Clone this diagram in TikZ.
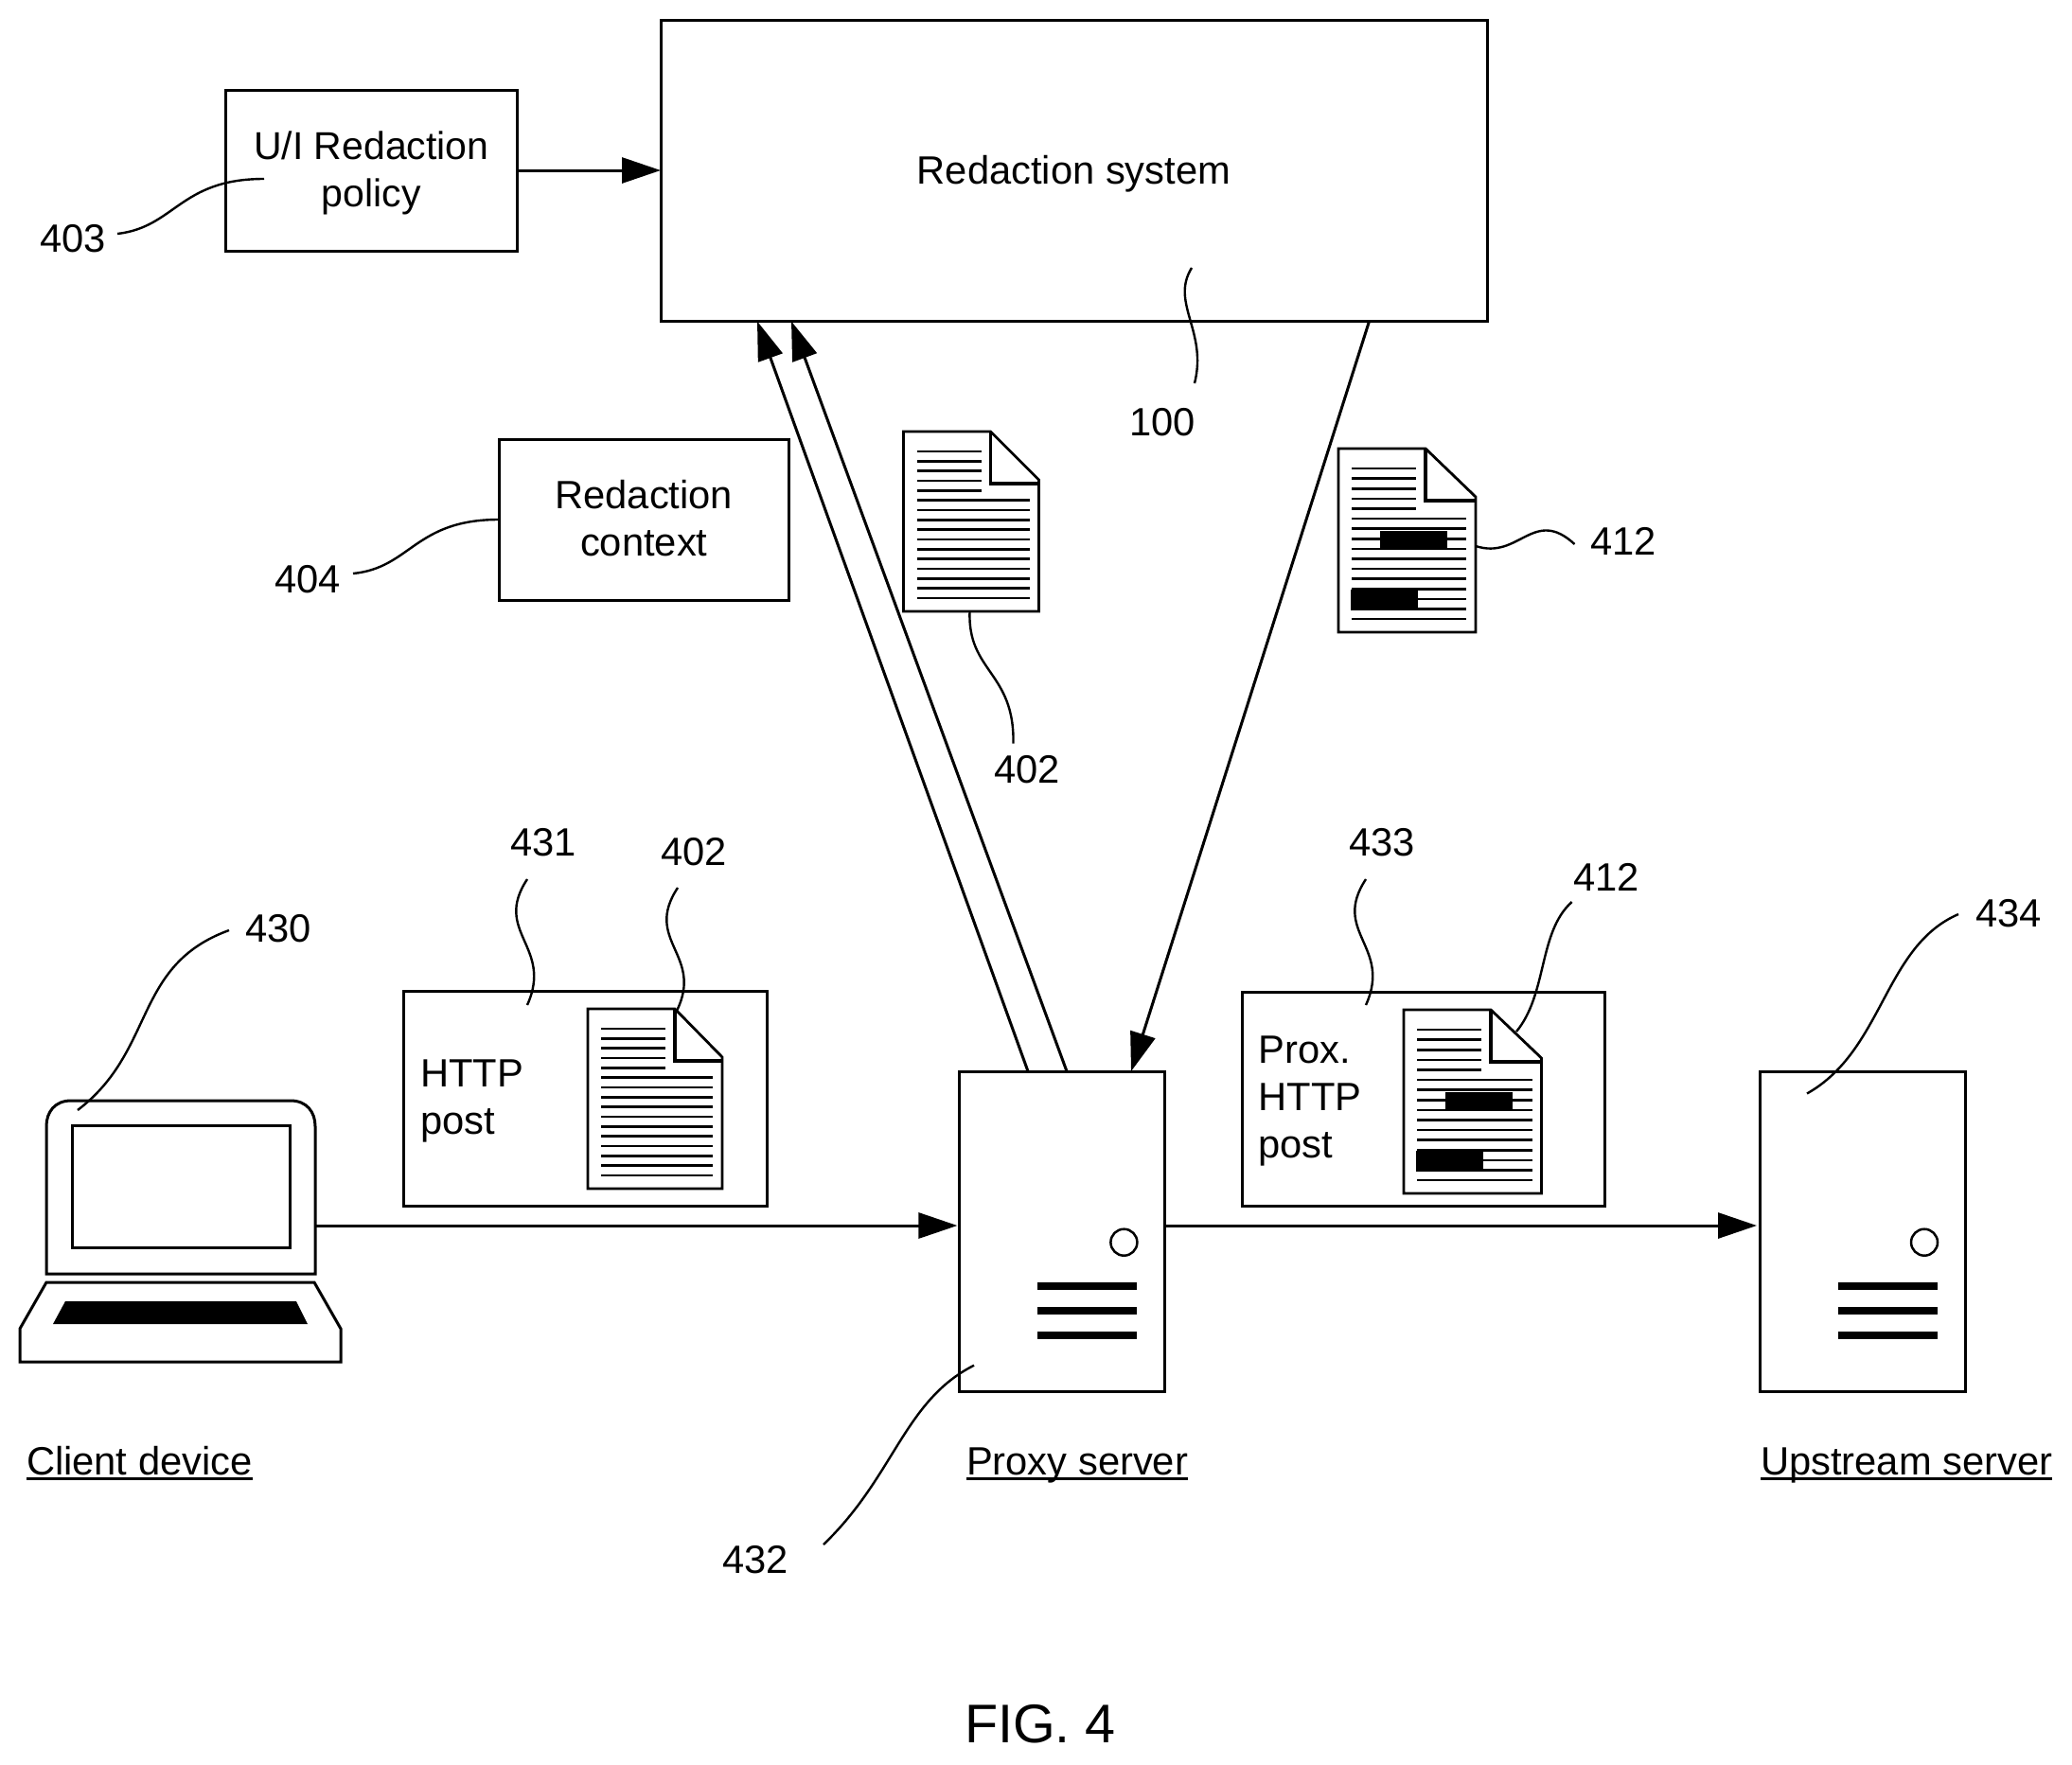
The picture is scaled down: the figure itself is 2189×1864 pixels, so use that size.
\documentclass[tikz,border=0pt]{standalone}
\usepackage{fontspec}
\setmainfont{Liberation Sans}
\usetikzlibrary{arrows.meta,calc}
\newcommand\ulin[1]{\setbox0=\hbox{#1}\rlap{\vrule width\wd0 height -3pt depth 5.5pt}\box0}
% origin, width, height
\newcommand\docpage[3]{%
  \draw[docline,fill=white] (#1) -- ++(92,0) -- ++(#2-92,51) -- ++(0,#3-51) -- ++(-#2,0) -- cycle;
  \draw[docline,line width=3.6pt,line join=miter] ($(#1)+(92,0)$) -- ++(0,55) -- ++(#2-92,0);
  \pgfmathsetmacro\dstep{(#3-35)/15}
  \foreach \i in {0,...,4}
    \draw[txtline] ($(#1)+(14,21+\i*\dstep)$) -- ++(68,0);
  \foreach \i in {5,...,15}
    \draw[txtline] ($(#1)+(14,21+\i*\dstep)$) -- ++(#2-24,0);
}
\newcommand\docredact[1]{%
  \fill ($(#1)+(43.5,87)$) rectangle ++(71,20);
  \fill ($(#1)+(13,149)$) rectangle ++(71,22);
}
\newcommand\serverparts[1]{%
  \draw[line width=2.5pt] ($(#1)+(174,180.7)$) circle[radius=14];
  \foreach \yy in {227,253,279}
    \draw[line width=8pt] ($(#1)+(82.5,\yy)$) -- ++(105.5,0);
}
\tikzset{
  box/.style={draw,line width=3pt,fill=white,inner sep=0pt,outer sep=0pt,font=\fontsize{41.7}{50}\selectfont},
  lbl/.style={anchor=base west,inner sep=0pt,outer sep=0pt,font=\fontsize{41.7}{50}\selectfont},
  arr/.style={line width=3pt,-{Triangle[length=41pt,width=27pt]}},
  leader/.style={line width=2.4pt},
  docline/.style={line width=2.8pt,line join=miter},
  txtline/.style={line width=2.6pt},
}
\begin{document}
\begin{tikzpicture}[x=1pt,y=-1pt]
\useasboundingbox (0,0) rectangle (2189,1864);

% boxes
\node[box,minimum width=873pt,minimum height=318.5pt,text height=30pt,text depth=2pt] (sys) at (1134.5,180.25) {Redaction system};
\node[box,minimum width=307.5pt,minimum height=170pt,align=center,font=\fontsize{41}{49.5}\selectfont] (ui) at (392.25,180) {\rule{0pt}{35pt}U/I Redaction\\policy};
\node[box,minimum width=306.5pt,minimum height=170pt,align=center] (ctx) at (680.25,549) {Redaction\\context\rule[-4pt]{0pt}{4pt}};
\node[box,minimum width=384pt,minimum height=227pt] (http) at (618,1160.5) {};
\node[box,minimum width=383pt,minimum height=226pt] (prox) at (1504,1161) {};
\node[box,minimum width=216.6pt,minimum height=338pt] (proxy) at (1121.7,1301) {};
\node[box,minimum width=217pt,minimum height=338pt] (up) at (1967.5,1301) {};

\serverparts{proxy.north west}
\serverparts{up.north west}

% laptop
\draw[line width=3pt,line join=miter] (49,1346) -- (49,1190) .. controls (49,1175) and (58,1163) .. (75,1163) -- (307,1163) .. controls (324,1163) and (333,1175) .. (333,1190) -- (333,1346) -- cycle;
\draw[line width=3pt] (76,1189) rectangle (306,1318);
\draw[line width=3pt,line join=miter] (49,1355) -- (332,1355) -- (360,1404) -- (360,1439) -- (21,1439) -- (21,1404) -- cycle;
\fill (69,1375) -- (313,1375) -- (325,1399) -- (56,1399) -- cycle;
\coordinate (lap) at (333,1295);

% documents
\coordinate (d1) at (621,1066);
\coordinate (d2) at (954.5,456);
\coordinate (d3) at (1414,474);
\coordinate (d4) at (1483,1067);
\docpage{d1}{142}{190}
\docpage{d2}{143}{190}
\docpage{d3}{145}{194}
\docpage{d4}{145.5}{194}
\docredact{d3}
\docredact{d4}

% connectors
\draw[arr] (ui.east) -- (sys.west |- ui.east);
\draw[arr,shorten >=2pt] (lap) -- (lap -| proxy.west);
\draw[arr,shorten >=3pt] (proxy.east |- lap) -- (lap -| up.west);
\draw[arr] ([xshift=72.6pt]proxy.north west) -- ([xshift=102pt]sys.south west);
\draw[arr] ([xshift=113.6pt]proxy.north west) -- ([xshift=138pt]sys.south west);
\draw[arr] ([xshift=748.5pt]sys.south west) -- ([xshift=181.6pt]proxy.north west);

% reference numerals
\node[lbl] (n403) at (42,266.5) {403};
\node[lbl] (n404) at (290,626) {404};
\node[lbl] (n100) at (1193,460) {100};
\node[lbl] (n402a) at (1050,827) {402};
\node[lbl] (n412a) at (1680,586.5) {412};
\node[lbl] (n430) at (259,995.5) {430};
\node[lbl] (n431) at (539,904) {431};
\node[lbl] (n402b) at (698,914) {402};
\node[lbl] (n433) at (1425,904) {433};
\node[lbl] (n412b) at (1662,941.5) {412};
\node[lbl] (n434) at (2087,979) {434};
\node[lbl] (n432) at (763,1662) {432};

% inner texts
\node[lbl] (thttp) at (444,1148.5) {HTTP};
\node[lbl] (tpost) at (444,1198) {post};
\node[lbl] (tprox) at (1329.5,1123) {Prox.};
\node[lbl] (thttp2) at (1329.5,1173) {HTTP};
\node[lbl] (tpost2) at (1329.5,1223.5) {post};

% captions
\node[lbl] (cclient) at (28,1558) {\ulin{Client device}};
\node[lbl] (cproxy) at (1021,1558) {\ulin{Proxy server}};
\node[lbl] (cup) at (1860,1558) {\ulin{Upstream server}};
\node[lbl,font=\fontsize{57.5}{60}\selectfont] (fig) at (1019,1841.7) {FIG. 4};

% leaders
\coordinate (a403) at (124,247); \coordinate (b403) at (279,189);
\draw[leader] (a403) .. controls (185,240) and (190,189) .. (b403);
\coordinate (a404) at (373,606);
\draw[leader] (a404) .. controls (434,600) and (438,549) .. (ctx.west);
\coordinate (a100) at (1259,283); \coordinate (b100) at (1262,405);
\draw[leader] (a100) .. controls (1236,320) and (1276,350) .. (b100);
\coordinate (b402a) at (1070.5,785.5);
\draw[leader] ($(d2)+(70,190)$) .. controls (1022,710) and (1072,710) .. (b402a);
\coordinate (b412a) at (1663.5,575);
\draw[leader] ($(d3)+(145,103)$) .. controls (1605,592) and (1620,535) .. (b412a);
\coordinate (a430) at (82,1173); \coordinate (b430) at (242,983);
\draw[leader] (a430) .. controls (165,1110) and (140,1020) .. (b430);
\coordinate (a431) at (557,929); \coordinate (b431) at (557,1062);
\draw[leader] (a431) .. controls (520,985) and (585,1000) .. (b431);
\coordinate (a402b) at (716,938);
\draw[leader] (a402b) .. controls (679,994) and (744,1009) .. ($(d1)+(94,2)$);
\coordinate (a433) at (1443,929); \coordinate (b433) at (1443,1062);
\draw[leader] (a433) .. controls (1406,985) and (1471,1000) .. (b433);
\coordinate (a412b) at (1660.6,953);
\draw[leader] (a412b) .. controls (1625,985) and (1635,1050) .. ($(d4)+(119,23)$);
\coordinate (a434) at (2069,966); \coordinate (b434) at (1909,1155.5);
\draw[leader] (a434) .. controls (1990,1000) and (1990,1110) .. (b434);
\coordinate (a432) at (1029,1442.7); \coordinate (b432) at (870,1632);
\draw[leader] (a432) .. controls (955,1480) and (945,1560) .. (b432);
\end{tikzpicture}
\end{document}
